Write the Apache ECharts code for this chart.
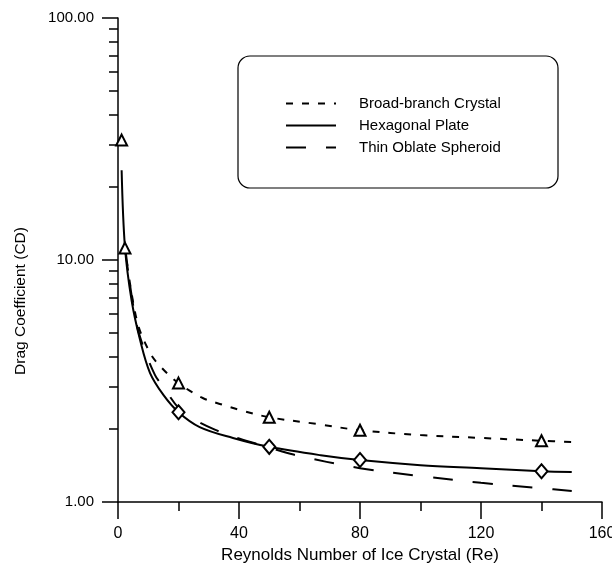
<!DOCTYPE html>
<html>
<head>
<meta charset="utf-8">
<script src="https://cdn.jsdelivr.net/npm/echarts@6/dist/echarts.min.js"></script>
<style>
  html, body { margin: 0; padding: 0; background: #fff; }
  #chart { width: 612px; height: 565px; }
</style>
</head>
<body>
<div id="chart"></div>
<script>
// Curves (Re, CD)
const broadRe = [2.3, 6.2, 10.6, 14.5, 20, 28, 34.7, 40.3, 50, 65.8, 80, 100, 120, 140, 150];
const broadCd = [11.2, 5.65, 4.13, 3.58, 3.1, 2.69, 2.52, 2.40, 2.24, 2.10, 1.98, 1.89, 1.84, 1.79, 1.77];

const hexRe = [1.2, 2.3, 4.5, 7.3, 10.6, 15, 20, 27, 38, 50, 67, 80, 100, 120, 140, 150];
const hexCd = [23.5, 11.3, 6.8, 4.67, 3.41, 2.77, 2.35, 2.04, 1.84, 1.69, 1.56, 1.49, 1.42, 1.38, 1.34, 1.33];

const thinRe = [2.3, 5, 7.3, 12.2, 15, 20, 25, 32, 40, 50, 58, 80, 100, 120, 140, 150];
const thinCd = [11.4, 6.5, 4.8, 3.35, 2.99, 2.45, 2.2, 1.99, 1.83, 1.68, 1.57, 1.38, 1.28, 1.20, 1.14, 1.11];

// Measured points (markers)
const triRe = [1.2, 2.3, 20, 50, 80, 140];
const triCd = [31.3, 11.2, 3.1, 2.24, 1.98, 1.79];
const diaRe = [20, 50, 80, 140];
const diaCd = [2.35, 1.69, 1.49, 1.34];

// Ticks
const yMinorTicks = [2, 3, 4, 5, 6, 7, 8, 9, 20, 30, 40, 50, 60, 70, 80, 90];

const seriesNames = ['Broad-branch Crystal', 'Hexagonal Plate', 'Thin Oblate Spheroid'];

const zip = (xs, ys) => xs.map((x, i) => [x, ys[i]]);

const FONT = '"Liberation Sans", Arial, sans-serif';
const black = '#000';

const chart = echarts.init(document.getElementById('chart'), null, { renderer: 'canvas' });

const lineBase = {
    type: 'line',
    symbol: 'none',
    smooth: 0.35,
    xAxisIndex: 0,
    yAxisIndex: 0,
    z: 3
};

chart.setOption({
    animation: false,
    backgroundColor: '#fff',
    grid: { left: 118, right: 10, top: 18, bottom: 63, outerBoundsMode: 'none', containLabel: false },
    graphic: [{
        type: 'rect',
        shape: { x: 238, y: 56, width: 320, height: 132, r: 12 },
        style: { fill: '#fff', stroke: black, lineWidth: 1.2 },
        z: 1
    }],
    legend: {
        data: seriesNames,
        orient: 'vertical',
        left: 280,
        top: 91,
        itemWidth: 50,
        itemHeight: 16,
        itemGap: 7,
        itemStyle: { opacity: 0 },
        textStyle: { fontFamily: FONT, fontSize: 15, color: black, padding: [0, 0, 0, 18] },
        z: 5
    },
    xAxis: [{
        type: 'value',
        min: 0,
        max: 160,
        interval: 40,
        name: 'Reynolds Number of Ice Crystal (Re)',
        nameLocation: 'middle',
        nameGap: 40,
        nameTextStyle: { fontFamily: FONT, fontSize: 17, color: black },
        axisLine: { show: true, onZero: false, lineStyle: { color: black, width: 1.5 } },
        axisTick: { show: true, length: 17, lineStyle: { color: black, width: 1.5 } },
        minorTick: { show: true, splitNumber: 2, length: 9, lineStyle: { color: black, width: 1.5 } },
        axisLabel: { fontFamily: FONT, fontSize: 16, color: black, margin: 24, hideOverlap: false },
        splitLine: { show: false },
        minorSplitLine: { show: false }
    }],
    yAxis: [{
        type: 'log',
        logBase: 10,
        min: 1,
        max: 100,
        name: 'Drag Coefficient (CD)',
        nameLocation: 'middle',
        nameGap: 89,
        nameTextStyle: { fontFamily: FONT, fontSize: 15.5, color: black, padding: [0, 82, 0, 0] },
        axisLine: { show: true, onZero: false, lineStyle: { color: black, width: 1.5 } },
        axisTick: { show: true, length: 16, lineStyle: { color: black, width: 1.5 } },
        axisLabel: {
            fontFamily: FONT, fontSize: 15, color: black, margin: 24,
            formatter: v => Number(v).toFixed(2)
        },
        splitLine: { show: false }
    }, {
        type: 'log',
        logBase: 10,
        min: 1,
        max: 100,
        position: 'left',
        axisLine: { show: false },
        axisTick: { show: true, length: 9, customValues: yMinorTicks, lineStyle: { color: black, width: 1.5 } },
        axisLabel: { show: false },
        splitLine: { show: false }
    }],
    series: [
        Object.assign({}, lineBase, {
            name: seriesNames[0],
            data: zip(broadRe, broadCd),
            lineStyle: { color: black, width: 2, type: [7, 9] },
            itemStyle: { color: black }
        }),
        Object.assign({}, lineBase, {
            name: seriesNames[1],
            data: zip(hexRe, hexCd),
            lineStyle: { color: black, width: 2, type: 'solid' },
            itemStyle: { color: black }
        }),
        Object.assign({}, lineBase, {
            name: seriesNames[2],
            data: zip(thinRe, thinCd),
            lineStyle: { color: black, width: 2, type: [20, 20] },
            itemStyle: { color: black }
        }),
        {
            type: 'scatter',
            name: 'triangles',
            data: zip(triRe, triCd),
            symbol: 'triangle',
            symbolSize: 11,
            itemStyle: { color: '#fff', borderColor: black, borderWidth: 2, opacity: 1 },
            z: 4
        },
        {
            type: 'scatter',
            name: 'diamonds',
            data: zip(diaRe, diaCd),
            symbol: 'diamond',
            symbolSize: [12, 14],
            itemStyle: { color: '#fff', borderColor: black, borderWidth: 2, opacity: 1 },
            z: 4
        }
    ]
});
</script>
</body>
</html>
